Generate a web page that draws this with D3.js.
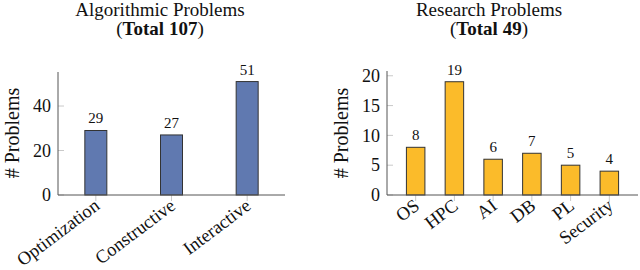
<!DOCTYPE html>
<html>
<head>
<meta charset="utf-8">
<script src="https://cdn.jsdelivr.net/npm/d3@7"></script>
<style>
  body { margin: 0; background: #fff; }
  text { font-family: "Liberation Serif", "DejaVu Serif", serif; fill: #111; }
</style>
</head>
<body>
<div id="chart"></div>
<script>
// data
const algoCategories = ['Optimization', 'Constructive', 'Interactive'];
const algoValues = [29, 27, 51];
const algoTicks = [0, 20, 40];

const researchCategories = ['OS', 'HPC', 'AI', 'DB', 'PL', 'Security'];
const researchValues = [8, 19, 6, 7, 5, 4];
const researchTicks = [0, 5, 10, 15, 20];

const width = 640;
const height = 270;

const svg = d3.select('#chart')
  .append('svg')
  .attr('width', width)
  .attr('height', height);

function drawPanel(opts) {
  const g = svg.append('g');
  const baseY = 195;

  const x = d3.scalePoint()
    .domain(opts.categories)
    .range([opts.x0, opts.x1])
    .padding(opts.padding);

  const y = d3.scaleLinear()
    .domain([0, opts.yMax])
    .range([baseY, opts.yTop]);

  // y ticks (inward, light gray)
  g.selectAll('.ytick')
    .data(opts.ticks)
    .join('line')
    .attr('x1', opts.x0)
    .attr('x2', opts.x0 + 6)
    .attr('y1', d => y(d))
    .attr('y2', d => y(d))
    .attr('stroke', '#bbb')
    .attr('stroke-width', 0.8);

  g.selectAll('.ylab')
    .data(opts.ticks)
    .join('text')
    .attr('x', opts.x0 - 7)
    .attr('y', d => y(d))
    .attr('dy', '0.35em')
    .attr('text-anchor', 'end')
    .attr('font-size', 18)
    .text(d => d);

  // x ticks (outward)
  g.selectAll('.xtick')
    .data(opts.categories)
    .join('line')
    .attr('x1', d => x(d))
    .attr('x2', d => x(d))
    .attr('y1', baseY)
    .attr('y2', baseY + 6)
    .attr('stroke', '#bbb')
    .attr('stroke-width', 0.8);

  // bars
  g.selectAll('rect')
    .data(opts.values)
    .join('rect')
    .attr('x', (d, i) => x(opts.categories[i]) - opts.barW / 2)
    .attr('y', d => y(d))
    .attr('width', opts.barW)
    .attr('height', d => baseY - y(d))
    .attr('fill', opts.color)
    .attr('stroke', '#333')
    .attr('stroke-width', 1);

  g.selectAll('.val')
    .data(opts.values)
    .join('text')
    .attr('x', (d, i) => x(opts.categories[i]))
    .attr('y', d => y(d) - 7)
    .attr('text-anchor', 'middle')
    .attr('font-size', 15)
    .text(d => d);

  // axis lines
  g.append('line')
    .attr('x1', opts.x0).attr('x2', opts.x0)
    .attr('y1', baseY).attr('y2', opts.yTop)
    .attr('stroke', '#555').attr('stroke-width', 1);
  g.append('line')
    .attr('x1', opts.x0).attr('x2', opts.x1)
    .attr('y1', baseY).attr('y2', baseY)
    .attr('stroke', '#555').attr('stroke-width', 1);

  // x labels rotated
  g.selectAll('.xlab')
    .data(opts.categories)
    .join('text')
    .attr('text-anchor', 'end')
    .attr('font-size', 18.5)
    .attr('transform', d => `translate(${x(d) + 5},${baseY + 13}) rotate(-37)`)
    .text(d => d);

  // y label
  g.append('text')
    .attr('transform', `translate(${opts.labelX},133) rotate(-90)`)
    .attr('text-anchor', 'middle')
    .attr('font-size', 20)
    .text('# Problems');

  // title
  g.append('text')
    .attr('x', opts.titleX)
    .attr('y', 16)
    .attr('text-anchor', 'middle')
    .attr('font-size', 19)
    .text(opts.title);
  const t2 = g.append('text')
    .attr('x', opts.titleX)
    .attr('y', 35)
    .attr('text-anchor', 'middle')
    .attr('font-size', 19);
  t2.append('tspan').text('(');
  t2.append('tspan').attr('font-weight', 'bold').text(opts.total);
  t2.append('tspan').text(')');
}

drawPanel({
  categories: algoCategories,
  values: algoValues,
  ticks: algoTicks,
  x0: 58, x1: 285, padding: 0.5,
  yMax: 55.3, yTop: 72,
  barW: 22,
  color: '#6079b0',
  labelX: 19,
  titleX: 160,
  title: 'Algorithmic Problems',
  total: 'Total 107'
});

drawPanel({
  categories: researchCategories,
  values: researchValues,
  ticks: researchTicks,
  x0: 387, x1: 638, padding: 0.74,
  yMax: 20.8, yTop: 71,
  barW: 18.5,
  color: '#fbbb2a',
  labelX: 348,
  titleX: 489,
  title: 'Research Problems',
  total: 'Total 49'
});
</script>
</body>
</html>
